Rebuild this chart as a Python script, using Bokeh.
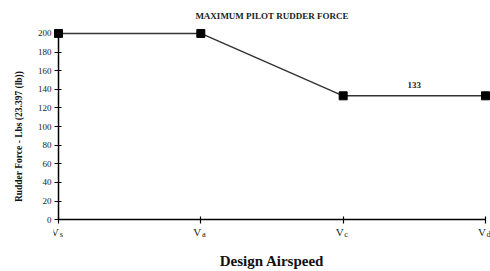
from bokeh.plotting import figure
from bokeh.models import Label, FixedTicker, LinearAxis, Range1d, Title
from bokeh.core.properties import value
from bokeh.embed import file_html
from bokeh.resources import INLINE

speeds = ["s", "a", "c", "d"]          # subscripts of V
xpos = [0, 1, 2, 3]
force = [200, 200, 133, 133]
y_ticks = list(range(0, 201, 20))
note_text = "133"
y_title = "Rudder Force - Lbs (23.397 (lb))"

FONT = "Liberation Serif"

XS, XE = -0.035, 3.035
YS, YE = -26.7, 205.3
W, H = 490, 271
BL, BR, BT, BB = 50, 0, 28, 26

p = figure(width=W, height=H, output_backend="svg", toolbar_location=None,
           x_range=Range1d(XS, XE), y_range=Range1d(YS, YE),
           min_border_left=BL, min_border_right=BR, min_border_top=BT, min_border_bottom=BB)
p.outline_line_color = None
p.grid.grid_line_color = None

p.title.text = "MAXIMUM PILOT RUDDER FORCE"
p.title.align = "center"
p.title.text_font = FONT
p.title.text_font_size = "9px"
p.title.text_color = "#222222"
p.title.standoff = 16

p.line(xpos, force, line_color="#333333", line_width=1.5)
p.scatter(xpos, force, marker="square", size=8, fill_color="black", line_color="black")

# x axis line and ticks at y = 0
xa = p.xaxis[0]
xa.fixed_location = 0
xa.ticker = FixedTicker(ticks=[], minor_ticks=xpos)
xa.bounds = (0, 3)
xa.axis_line_color = "black"
xa.axis_line_width = 1.5
xa.major_tick_line_color = None
xa.minor_tick_line_color = "black"
xa.minor_tick_line_width = 1.2
xa.minor_tick_in = 3
xa.minor_tick_out = 4
xa.major_tick_in = 0
xa.major_tick_out = 0

# category labels V with subscripts, placed from the data positions
p.text(x=xpos, y=[0] * len(xpos), text=["V"] * len(xpos), x_offset=-3.5, y_offset=12,
       text_font=value(FONT), text_font_size="11px", text_color="#222222",
       text_align="center", text_baseline="alphabetic")
p.text(x=xpos, y=[0] * len(xpos), text=speeds, x_offset=3, y_offset=14,
       text_font=value(FONT), text_font_size="8.5px", text_color="#222222",
       text_align="center", text_baseline="alphabetic")

# axis title below
da = LinearAxis(ticker=FixedTicker(ticks=[]), bounds=(0, 3),
                axis_line_color=None, major_tick_line_color=None, minor_tick_line_color=None,
                major_tick_in=0, major_tick_out=0, minor_tick_in=0, minor_tick_out=0,
                axis_label="Design Airspeed", axis_label_text_font=FONT,
                axis_label_text_font_size="15px", axis_label_text_font_style="bold",
                axis_label_text_color="#111111", axis_label_standoff=8)
p.add_layout(da, "below")

# y axis labels (at the frame edge)
ya = p.yaxis[0]
ya.ticker = FixedTicker(ticks=y_ticks)
ya.bounds = (0, 200)
ya.major_label_text_font = FONT
ya.major_label_text_font_size = "9px"
ya.major_label_text_color = "#222222"
ya.major_label_standoff = 2
ya.axis_line_color = None
ya.major_tick_line_color = None
ya.minor_tick_line_color = None
ya.major_tick_out = 0
ya.major_tick_in = 0

# y axis line and ticks at x = 0
yl = LinearAxis(ticker=FixedTicker(ticks=[], minor_ticks=y_ticks), bounds=(0, 200),
                axis_line_color="black", axis_line_width=1.5,
                major_tick_line_color=None,
                minor_tick_line_color="black", minor_tick_line_width=1.2,
                minor_tick_in=3, minor_tick_out=4)
yl.fixed_location = 0
p.add_layout(yl, "left")

# y axis title, centred on the 0-200 span
p.add_layout(Title(text=y_title, align="center", offset=19, standoff=22,
                   text_font=FONT, text_font_size="9.5px", text_font_style="bold",
                   text_color="#111111"), "left")

p.add_layout(Label(x=2.5, y=133, y_offset=11, text=note_text, text_font=FONT,
                   text_font_size="9px", text_font_style="bold", text_color="#222222",
                   text_align="center", text_baseline="alphabetic"))

open("out.html", "w").write(file_html(p, INLINE))
